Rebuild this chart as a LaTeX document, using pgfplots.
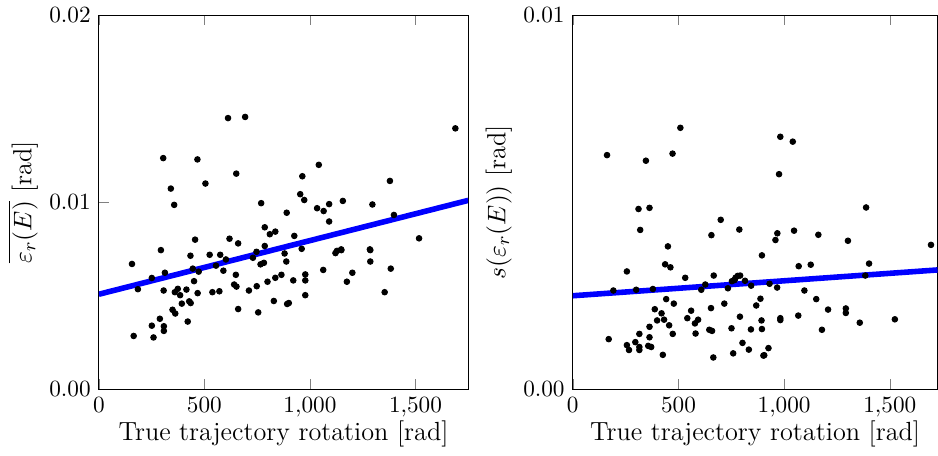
\documentclass[border=0pt]{standalone}
\usepackage{pgfplots}
\pgfplotsset{compat=1.18}

\pgfplotsset{
  trajstyle/.style={
    scale only axis,
    height=161pt,
    ymin=0,
    xtick={0,500,1000,1500},
    xlabel={True trajectory rotation [rad]},
    label style={font=\fontsize{11.3}{13}\selectfont},
    xlabel style={yshift=5pt},
    ylabel style={yshift=-2pt},
    yticklabel style={/pgf/number format/fixed,/pgf/number format/precision=2,/pgf/number format/fixed zerofill},
    scaled y ticks=false,
  },
  dots/.style={only marks, mark=*, mark size=1.2pt, black},
  fit/.style={no marks, blue, line width=2.4pt},
}

\begin{document}
\begin{tikzpicture}
\begin{axis}[trajstyle, width=159pt, xmin=0, xmax=1750,
  ymax=0.02, ytick={0,0.01,0.02},
  ylabel={$\overline{\varepsilon_r(E)}$ [rad]}]
\addplot[dots] coordinates {
(157,0.0067) (294,0.00744) (251,0.00595) (313,0.00623) (185,0.00535) (307,0.00528)
(434,0.00714) (445,0.00645) (473,0.00629) (451,0.00578) (468,0.00514) (374,0.00537)
(360,0.00519) (385,0.00503) (415,0.00533) (393,0.00458) (428,0.0047) (435,0.00461)
(349,0.00425) (362,0.00405) (289,0.00377) (251,0.0034) (308,0.00337) (308,0.00312)
(421,0.00362) (165,0.00285) (259,0.00277) (525,0.00719) (575,0.00719) (602,0.00694)
(555,0.00661) (590,0.00634) (649,0.00612) (641,0.0056) (652,0.00549) (538,0.00519)
(571,0.00524) (660,0.00429) (711,0.00528) (748,0.00551) (755,0.00411) (730,0.00703)
(747,0.00735) (766,0.00668) (782,0.00676) (786,0.00766) (799,0.00575) (829,0.00472)
(836,0.00596) (865,0.00612) (880,0.00726) (888,0.00683) (892,0.00456) (921,0.00582)
(612,0.0145) (693,0.01456) (305,0.01236) (467,0.01229) (651,0.01153) (341,0.01073)
(505,0.011) (357,0.00986) (769,0.00995) (890,0.00944) (786,0.00866) (836,0.00843)
(810,0.00829) (456,0.008) (619,0.00805) (660,0.0078)
(1689,0.01395) (1042,0.012) (964,0.01139) (1379,0.01114) (954,0.01043) (973,0.01012)
(1034,0.00968) (1065,0.00953) (1091,0.0099) (1156,0.01007) (1091,0.00897) (1296,0.00988)
(1398,0.00932) (926,0.0082) (1517,0.00807) (961,0.00751) (1148,0.00748) (1284,0.00748)
(1128,0.0074) (978,0.00614) (978,0.00582) (978,0.00503) (900,0.00461) (1063,0.00638)
(1121,0.00728) (1149,0.00744) (1201,0.00623) (1175,0.00575) (1286,0.00744) (1286,0.00683)
(1383,0.00645) (1354,0.00519)
};
\addplot[fit] coordinates {(0,0.00508) (1750,0.01010)};
\end{axis}

\begin{axis}[trajstyle, at={(204pt,0)}, width=157pt, xmin=0, xmax=1726,
  ymax=0.01, ytick={0,0.01},
  ylabel={$s(\varepsilon_r(E))$ [rad]}]
\addplot[dots] coordinates {
(509,0.00699) (162,0.00626) (346,0.00611) (472,0.0063) (311,0.00482) (363,0.00485)
(319,0.00426) (450,0.00382) (700,0.00453) (656,0.00412) (788,0.00427)
(982,0.00675) (1041,0.00662) (976,0.00575) (1388,0.00486) (968,0.00417) (959,0.00399)
(1047,0.00424) (1162,0.00413) (1302,0.00397) (1695,0.00386)
(256,0.00315) (437,0.00334) (462,0.00326) (532,0.00298) (667,0.00304) (627,0.0028)
(608,0.00266) (192,0.00264) (300,0.00266) (379,0.00268) (734,0.0027) (753,0.00289)
(770,0.00298) (780,0.00303) (792,0.00304) (766,0.00292) (815,0.0029) (844,0.00277)
(895,0.00358) (442,0.00241) (478,0.00229) (388,0.00214) (420,0.00203) (399,0.00184)
(432,0.00186) (456,0.00171) (473,0.00148) (363,0.00167) (315,0.00148) (363,0.00139)
(170,0.00134) (256,0.00118) (296,0.00126) (266,0.00105) (315,0.00113) (315,0.00105)
(357,0.00116) (371,0.00113) (426,0.00092) (542,0.0019) (560,0.0021) (578,0.00176)
(593,0.00186) (581,0.00149) (654,0.00217) (646,0.00159) (659,0.00156) (717,0.00229)
(751,0.00163) (791,0.00194) (665,0.00085) (759,0.00096) (803,0.00124) (833,0.00106)
(843,0.0016) (888,0.00242) (868,0.00224) (893,0.00184) (895,0.00161) (902,0.0009)
(1069,0.00329) (1126,0.00333) (1402,0.00336) (1384,0.00304) (931,0.00282) (967,0.00272)
(1096,0.00264) (1152,0.00241) (1208,0.00213) (1292,0.00216) (1292,0.00204) (1358,0.00178)
(1524,0.00187) (1067,0.00197) (982,0.0019) (982,0.00185) (1179,0.00159) (926,0.0011)
(906,0.00091)
};
\addplot[fit] coordinates {(0,0.0025) (1726,0.00319)};
\end{axis}
\end{tikzpicture}
\end{document}
